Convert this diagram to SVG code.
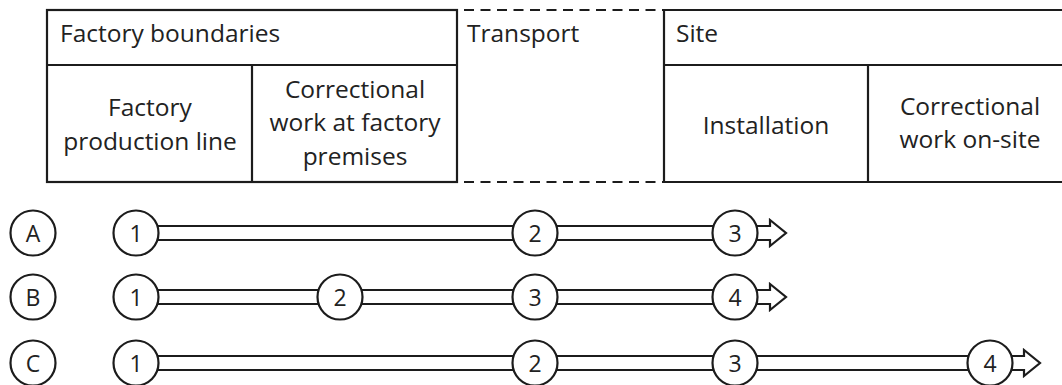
<svg xmlns="http://www.w3.org/2000/svg" width="1062" height="385" viewBox="0 0 1062 385">
  <style>
    .ln { stroke: #1c1c1c; stroke-width: 2.2; fill: none; }
    .dash { stroke: #1c1c1c; stroke-width: 2.2; fill: none; stroke-dasharray: 10 6.5; }
    .hd { font-family: "Open Sans", "Liberation Sans", sans-serif; font-size: 24.5px; fill: #222222; }
    .cell { font-family: "Open Sans", "Liberation Sans", sans-serif; font-size: 24.5px; fill: #222222; text-anchor: middle; }
    .node circle { fill: #ffffff; stroke: #1c1c1c; stroke-width: 2.2; }
    .node text { font-family: "Open Sans", "Liberation Sans", sans-serif; font-size: 23px; fill: #222222; text-anchor: middle; }
    .rail { stroke: #1c1c1c; stroke-width: 2.2; fill: none; }
    .head { stroke: #1c1c1c; stroke-width: 2.2; fill: #ffffff; stroke-linejoin: miter; }
  </style>
  <rect width="1062" height="385" fill="#ffffff"/>

  <!-- Stage table -->
  <g id="factory">
    <rect class="ln" x="47" y="10" width="410" height="172"/>
    <line class="ln" x1="47" y1="65" x2="457" y2="65"/>
    <line class="ln" x1="252" y1="65" x2="252" y2="182"/>
    <text class="hd" x="60" y="42">Factory boundaries</text>
    <text class="cell" x="150" y="116">Factory</text>
    <text class="cell" x="150" y="150">production line</text>
    <text class="cell" x="355" y="98">Correctional</text>
    <text class="cell" x="355" y="131">work at factory</text>
    <text class="cell" x="355" y="165">premises</text>
  </g>
  <g id="transport">
    <line class="dash" x1="464" y1="10" x2="664" y2="10"/>
    <line class="dash" x1="464" y1="182" x2="664" y2="182"/>
    <text class="hd" x="467" y="42">Transport</text>
  </g>
  <g id="site">
    <path class="ln" d="M1070 10 H664 V182 H1070"/>
    <line class="ln" x1="664" y1="65" x2="1070" y2="65"/>
    <line class="ln" x1="868" y1="65" x2="868" y2="182"/>
    <text class="hd" x="676" y="42">Site</text>
    <text class="cell" x="766" y="134">Installation</text>
    <text class="cell" x="970" y="115">Correctional</text>
    <text class="cell" x="970" y="148">work on-site</text>
  </g>

  <!-- Double-line paths between stage markers, with open block arrowheads -->
  <g id="connectors">
    <path class="rail" d="M136 226 H734 M136 240 H734"/>
    <path class="head" d="M745 226 H770 V220 L786 233 L770 246 V240 H745"/>
    <path class="rail" d="M136 290 H734 M136 304 H734"/>
    <path class="head" d="M745 290 H770 V284 L786 297 L770 310 V304 H745"/>
    <path class="rail" d="M136 356 H990 M136 370 H990"/>
    <path class="head" d="M1001 356 H1024 V350 L1040 363 L1024 376 V370 H1001"/>
  </g>

  <!-- Scenario labels -->
  <g id="scenario-a" class="node"><circle cx="33" cy="233" r="22.5"/><text x="33" y="241.5">A</text></g>
  <g id="scenario-b" class="node"><circle cx="33" cy="297" r="22.5"/><text x="33" y="305.5">B</text></g>
  <g id="scenario-c" class="node"><circle cx="33" cy="363" r="22.5"/><text x="33" y="371.5">C</text></g>

  <!-- Scenario A markers -->
  <g id="a1" class="node"><circle cx="136" cy="233" r="22.5"/><text x="136" y="241.5">1</text></g>
  <g id="a2" class="node"><circle cx="535" cy="233" r="22.5"/><text x="535" y="241.5">2</text></g>
  <g id="a3" class="node"><circle cx="735" cy="233" r="22.5"/><text x="735" y="241.5">3</text></g>

  <!-- Scenario B markers -->
  <g id="b1" class="node"><circle cx="136" cy="297" r="22.5"/><text x="136" y="305.5">1</text></g>
  <g id="b2" class="node"><circle cx="340" cy="297" r="22.5"/><text x="340" y="305.5">2</text></g>
  <g id="b3" class="node"><circle cx="535" cy="297" r="22.5"/><text x="535" y="305.5">3</text></g>
  <g id="b4" class="node"><circle cx="735" cy="297" r="22.5"/><text x="735" y="305.5">4</text></g>

  <!-- Scenario C markers -->
  <g id="c1" class="node"><circle cx="136" cy="363" r="22.5"/><text x="136" y="371.5">1</text></g>
  <g id="c2" class="node"><circle cx="535" cy="363" r="22.5"/><text x="535" y="371.5">2</text></g>
  <g id="c3" class="node"><circle cx="735" cy="363" r="22.5"/><text x="735" y="371.5">3</text></g>
  <g id="c4" class="node"><circle cx="990" cy="363" r="22.5"/><text x="990" y="371.5">4</text></g>
</svg>
